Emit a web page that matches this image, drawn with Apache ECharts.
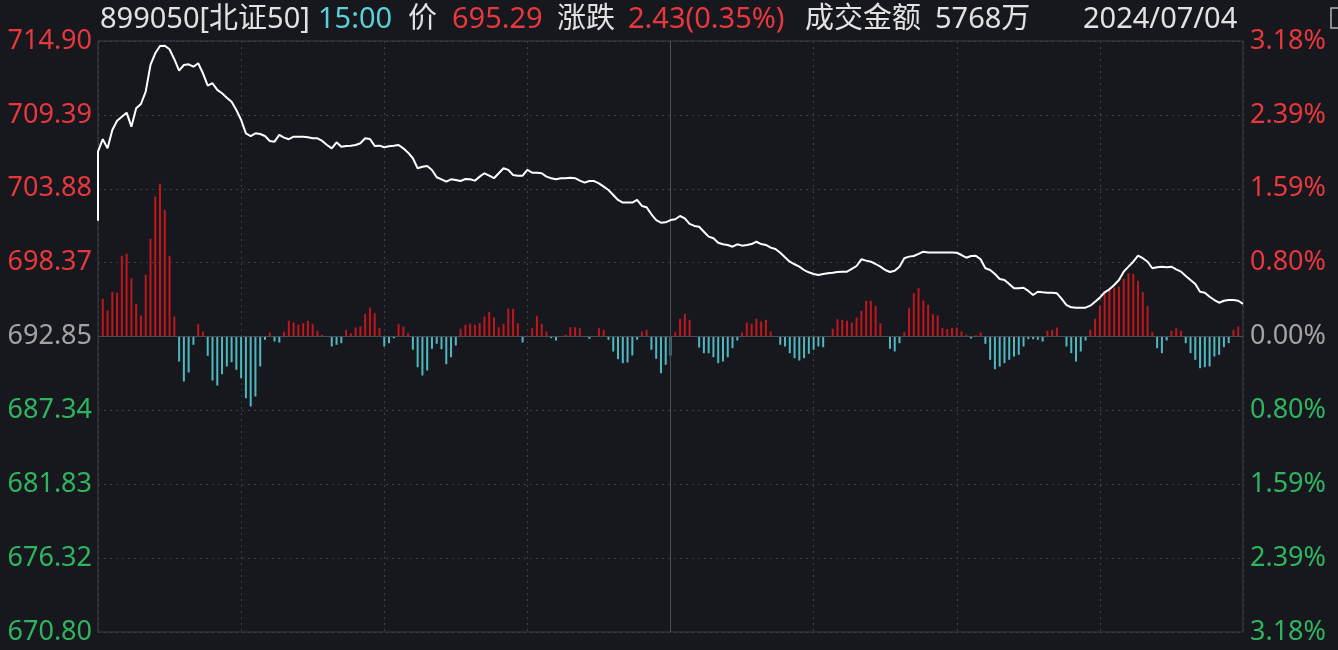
<!DOCTYPE html>
<html><head><meta charset="utf-8">
<script src="https://cdn.jsdelivr.net/npm/echarts/dist/echarts.min.js"></script>
<style>html,body{margin:0;padding:0;background:#16181e;}#c{width:1338px;height:650px;}</style>
</head><body><div id="c"></div>
<script>
const basePrice = 692.85;
const openPrice = 701.49;
// one close price per minute, index 0 = 09:30 ... index 240 = 15:00
const prices = [
706.64,707.57,706.89,708.26,708.95,709.25,709.55,708.51,709.88,710.20,
711.12,713.11,713.98,714.53,714.55,714.28,713.54,712.69,713.11,713.16,
712.98,713.24,712.49,711.57,711.75,711.25,711.00,710.67,710.37,709.75,
709.01,708.01,707.81,708.01,707.96,707.81,707.44,707.39,707.89,707.69,
707.57,707.76,707.76,707.76,707.72,707.64,707.64,707.44,707.14,706.89,
707.34,707.01,707.07,707.09,707.14,707.27,707.64,707.59,707.07,707.09,
706.97,707.05,707.09,707.14,706.89,706.57,706.15,705.40,705.52,705.57,
705.28,704.73,704.58,704.40,704.58,704.53,704.45,704.60,704.58,704.48,
704.78,705.03,704.85,704.66,705.03,705.40,705.28,704.90,704.85,704.85,
705.28,705.07,705.07,705.03,704.78,704.66,704.58,704.66,704.66,704.70,
704.66,704.48,704.33,704.45,704.45,704.28,704.03,703.78,703.41,703.04,
702.84,702.84,702.84,703.04,702.59,702.49,701.97,701.54,701.34,701.37,
701.54,701.60,701.84,701.67,701.25,701.10,701.04,700.67,700.30,700.18,
699.85,699.73,699.68,699.55,699.73,699.63,699.68,699.75,699.92,699.75,
699.68,699.48,699.38,699.10,698.76,698.43,698.24,698.06,697.81,697.64,
697.51,697.44,697.51,697.57,697.61,697.66,697.69,697.69,697.89,698.11,
698.61,698.51,698.43,698.26,698.06,697.81,697.66,697.76,698.06,698.69,
698.81,698.86,699.01,699.18,699.12,699.12,699.12,699.12,699.12,699.12,
699.10,698.93,698.73,698.86,698.88,698.61,697.94,697.81,697.51,697.14,
697.07,696.77,696.45,696.45,696.49,696.25,695.95,696.19,696.15,696.12,
696.12,696.07,695.65,695.20,695.03,695.00,695.00,695.00,695.15,695.45,
695.75,696.15,696.37,696.69,697.07,697.69,698.06,698.43,698.88,698.69,
698.43,697.94,698.01,698.06,698.01,698.06,697.86,697.69,697.36,697.07,
696.77,696.19,696.12,695.82,695.57,695.37,695.52,695.57,695.57,695.52,
695.29
];
// indicator bars for minutes 1 ... 240
const bars = [
37.7,26,44.7,43.7,80.7,82.7,58.3,32.7,21,61.7,
97.7,140,152.7,126.7,80.7,20,-25,-45,-36,-8.3,
12.3,5,-19.3,-44,-49,-37.7,-30,-25.7,-33.3,-41.7,
-61.7,-70,-60,-30,-3.3,4,-5,-6,4.7,15.7,
14,11.7,13.3,15.7,12.7,5.7,1.7,0,-10,-8.3,
-6.7,6.7,3.3,9,10,22.7,29,23.3,8.3,-10,
-6.7,-1.7,12.7,10,3.3,-13.3,-30.7,-39,-34,-12.3,
-7.3,-12.7,-27.7,-20.7,-9,7.7,11.7,12.7,11.7,13.3,
20,24.7,19,9.3,12.7,27.7,27.7,13.3,-6,0,
8.3,20.7,12.7,5,-1.7,-4,0,1.7,9.3,9.3,
8.3,0.7,-2.3,0.5,8.3,6.7,-3.3,-15,-22.7,-26.7,
-26,-19,-3.3,5,6.7,-13.3,-22.3,-36.7,-28.3,-19,
4.3,17.7,22.7,16.7,0,-11,-16.7,-16.7,-20.7,-26.7,
-25,-20.7,-11.7,-4,4,14,12.7,17.7,15,16.7,
5,0,-8.3,-10,-16.7,-21.7,-24,-21.7,-17.3,-13.3,
-10,-10.7,0,7.7,17.3,16.7,15.7,14,19,25.7,
35.7,35.7,30.7,13.3,0,-12.3,-15,-6.7,4.3,28.3,
43.3,48.3,36,31.7,22.3,21,8.5,7.5,8.5,9,
5,1.7,-2,1.3,4,-7.3,-23.3,-32.7,-30,-26.7,
-23.3,-20,-18.3,-10,-2.7,-2.7,-3.3,-5,5.7,6.7,
9,0,-10,-16.7,-25,-15,-4,6.7,17.7,30.7,
45,47.7,49,50,57.7,63.3,62.7,55.7,44.3,30.7,
4.3,-11.7,-16.7,-4,5.7,8.3,5.7,-6.7,-16.7,-23.3,
-31.7,-30.7,-30,-20,-18.3,-10.7,-6.7,6.7,10,0
];
const leftLabels = ['670.80','676.32','681.83','687.34','692.85','698.37','703.88','709.39','714.90'];
const rightLabels = ['3.18%','2.39%','1.59%','0.80%','0.00%','0.80%','1.59%','2.39%','3.18%'];
const headerCode = '899050[北证50]';
const headerTime = '15:00';
const headerPriceLabel = '价';
const headerPrice = '695.29';
const headerChangeLabel = '涨跌';
const headerChange = '2.43(0.35%)';
const headerAmountLabel = '成交金额';
const headerAmount = '5768万';
const headerDate = '2024/07/04';

const RED = '#e8383d', GREEN = '#2fb55f', GRAY = '#a3a3a3', WHITE = '#e2e2e2', CYAN = '#5ad0d8';
const BAR_RED = '#c1161c', BAR_CYAN = '#4fb8c0';
const FONT = '"Noto Sans", "Noto Sans CJK SC", sans-serif';
const STEP = 5.5125, HALF = STEP * 4;
const BAR_HALF = 295.5;

const lineData = [[0, openPrice - basePrice]].concat(prices.map((p, i) => [i, +(p - basePrice).toFixed(4)]));
const barData = bars.map((v, i) => ({
  value: [i + 1, v],
  itemStyle: { color: v >= 0 ? BAR_RED : BAR_CYAN }
}));

function labelIdx(v) { return Math.round((Number(v) + HALF) / STEP); }
function labelColor(v) { const k = labelIdx(v); return k > 4 ? RED : (k < 4 ? GREEN : GRAY); }

function hText(x, text, color) {
  return { type: 'text', x: x, y: 20, silent: true,
    style: { text: text, fill: color, font: '29px ' + FONT, verticalAlign: 'middle', align: 'left' } };
}

const chart = echarts.init(document.getElementById('c'), null, { renderer: 'canvas' });
chart.setOption({
  backgroundColor: '#16181e',
  animation: false,
  grid: { left: 98, right: 95, top: 41, bottom: 18, show: true, borderColor: '#3b3f47', borderWidth: 1, backgroundColor: 'transparent' },
  graphic: [
    hText(100, headerCode, WHITE),
    hText(318, headerTime, CYAN),
    hText(408, headerPriceLabel, WHITE),
    hText(452, headerPrice, RED),
    hText(557, headerChangeLabel, WHITE),
    hText(628, headerChange, RED),
    hText(805, headerAmountLabel, WHITE),
    hText(935, headerAmount, WHITE),
    hText(1083, headerDate, WHITE),
    { type: 'rect', shape: { x: 1331, y: 8, width: 14, height: 20 }, style: { fill: 'transparent', stroke: '#b0b0b0', lineWidth: 1.5 }, silent: true }
  ],
  xAxis: {
    type: 'value', min: 0, max: 240, interval: 30,
    axisLine: { show: false }, axisTick: { show: false }, axisLabel: { show: false },
    splitLine: { show: true, lineStyle: { color: '#3b3f47', type: [2, 4], width: 1 } }
  },
  yAxis: [
    {
      type: 'value', min: -HALF, max: HALF, interval: STEP, position: 'left',
      axisLine: { show: false }, axisTick: { show: false },
      axisLabel: { fontFamily: FONT, fontSize: 27, margin: 6,
        formatter: v => leftLabels[labelIdx(v)], color: v => labelColor(v) },
      splitLine: { show: true, lineStyle: { color: '#3b3f47', type: [2, 4], width: 1 } }
    },
    {
      type: 'value', min: -HALF, max: HALF, interval: STEP, position: 'right',
      axisLine: { show: false }, axisTick: { show: false },
      axisLabel: { fontFamily: FONT, fontSize: 27, margin: 7,
        formatter: v => rightLabels[labelIdx(v)], color: v => labelColor(v) },
      splitLine: { show: false }
    },
    {
      type: 'value', min: -BAR_HALF, max: BAR_HALF, show: false
    }
  ],
  series: [
    {
      type: 'bar', xAxisIndex: 0, yAxisIndex: 2, barWidth: 2, data: barData,
      silent: true,
      markLine: {
        silent: true, symbol: 'none', label: { show: false },
        lineStyle: { color: '#4a4e56', type: 'solid', width: 1 },
        data: [{ xAxis: 120 }, { yAxis: 0 }]
      }
    },
    {
      type: 'line', xAxisIndex: 0, yAxisIndex: 0, data: lineData, symbol: 'none',
      lineStyle: { color: '#ffffff', width: 2 }, silent: true, z: 5
    }
  ]
});
</script>
</body></html>
